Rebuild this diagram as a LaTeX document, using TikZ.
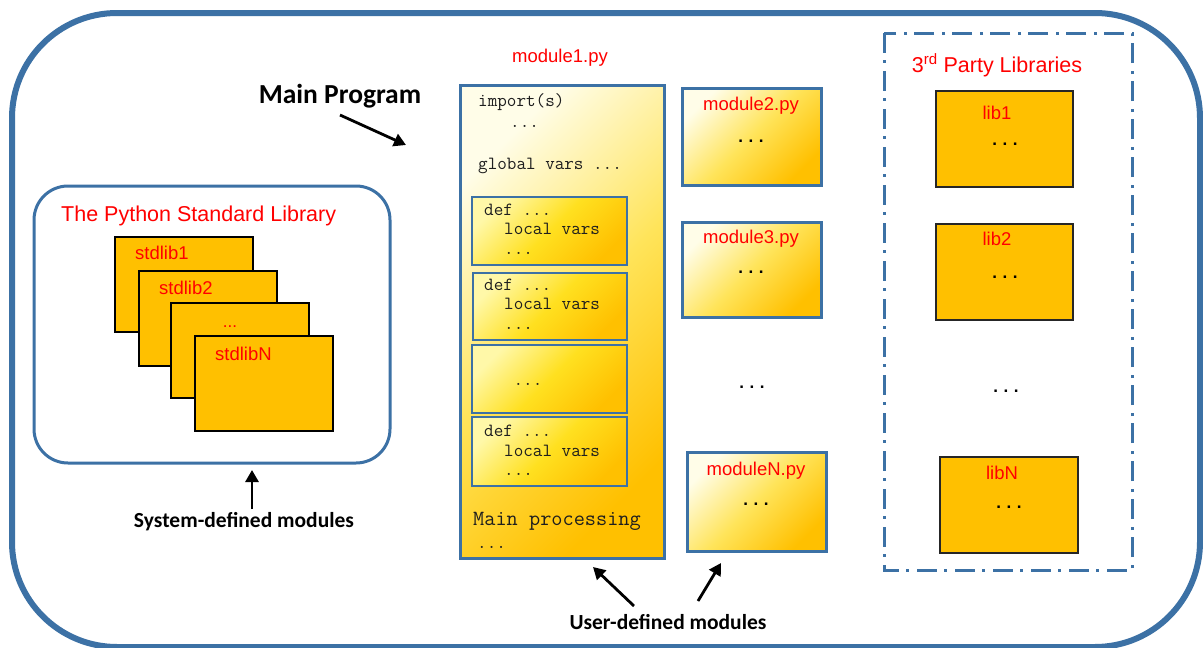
\documentclass[tikz,border=0pt]{standalone}
\usepackage{fontspec}
\setmainfont{Liberation Sans}
\newfontfamily\calibri{Carlito}
\newfontfamily\couriernew{Liberation Mono}
\usetikzlibrary{arrows.meta}
\definecolor{mblue}{RGB}{60,113,165}
\definecolor{gold}{RGB}{255,192,0}
\definecolor{paleY}{RGB}{255,253,232}
\definecolor{midY}{RGB}{255,228,90}
\definecolor{defTop}{RGB}{255,248,168}
\definecolor{defMid}{RGB}{255,224,32}
\definecolor{codeC}{RGB}{30,30,30}
\begin{document}
\begin{tikzpicture}[x=1pt,y=-1pt,
  redlbl/.style={text=red, font=\fontsize{18.5}{20}\selectfont, inner sep=0},
  bigred/.style={text=red, font=\fontsize{21.5}{24}\selectfont, inner sep=0},
  boldlbl/.style={font=\calibri\bfseries\fontsize{21.5}{24}\selectfont, inner sep=0},
  code/.style={text=codeC, font=\ttfamily\fontsize{18.6}{20}\selectfont, inner sep=0},
  bigcode/.style={text=codeC, font=\ttfamily\fontsize{21.7}{24}\selectfont, inner sep=0},
  dotsl/.style={font=\couriernew\bfseries\fontsize{17}{18}\selectfont, inner sep=0},
  modbox/.style={draw=mblue, line width=3, inner sep=0, outer sep=0, anchor=north west,
     top color=paleY, bottom color=gold, middle color=midY, shading angle=45},
  defbox/.style={draw=mblue, line width=2, inner sep=0, outer sep=0, anchor=north west,
     top color=defTop, bottom color=gold, middle color=defMid, shading angle=45},
  libbox/.style={draw=black!85, fill=gold, line width=2, inner sep=0, outer sep=0, anchor=north west,
     minimum width=137, minimum height=96},
  stdbox/.style={draw=black, fill=gold, line width=2, inner sep=0, outer sep=0, anchor=north west,
     minimum width=138, minimum height=95},
  pointer/.style={draw=black, line width=2.8, -{Triangle[length=12,width=13]}}
]
\useasboundingbox (0,0) rectangle (1203,648);
\clip (0,0) rectangle (1203,648);
\fill[white] (0,0) rectangle (1203,648);

% outer frame
\draw[mblue, line width=6, rounded corners=105] (12,13) rectangle (1200,647);

% Python standard library
\draw[mblue, line width=3, rounded corners=34] (34,186) rectangle (390,463);
\node[bigred, anchor=base west] (pslt) at (61,221) {The Python Standard Library};
\node[stdbox] (s1) at (115,237) {};
\node[redlbl, anchor=base west] (s1l) at (135,259) {stdlib1};
\node[stdbox] (s2) at (139,271) {};
\node[redlbl, anchor=base west] (s2l) at (159,294) {stdlib2};
\node[stdbox] (s3) at (171,303) {};
\node[text=red, font=\fontsize{17}{18}\selectfont, inner sep=0, anchor=base] (s3l) at (230,327) {...};
\node[stdbox] (s4) at (195,336) {};
\node[redlbl, anchor=base west] (s4l) at (215,360) {stdlibN};

\node[boldlbl, anchor=center] (sysdef) at (244,522) {System-defined modules};
\coordinate (sysA) at (252,509);
\draw[pointer] (sysA) -- (252,470);

% main program
\node[boldlbl, font=\calibri\bfseries\fontsize{27.5}{30}\selectfont, anchor=center] (mainp) at (340,96) {Main Program};
\coordinate (mpA) at (340,115);
\coordinate (mpB) at (406,145);
\draw[pointer] (mpA) -- (mpB);

% module1
\node[redlbl, anchor=base] (m1l) at (560,62) {module1.py};
\node[modbox, minimum width=204, minimum height=473] (m1) at (460,85) {};
\node[code, anchor=base west] (imp) at (478,106) {import(s)};
\node[code, anchor=base west] (impd) at (510,127) {...};
\node[code, anchor=base west] (glob) at (478,169) {global vars ...};

\node[defbox, minimum width=155, minimum height=68] (d1) at (472,197) {};
\node[code, anchor=base west] (d1a) at (484,215) {def ...};
\node[code, anchor=base west] (d1b) at (504,234) {local vars};
\node[code, anchor=base west] (d1c) at (504,254) {...};

\node[defbox, minimum width=154, minimum height=67] (d2) at (473,273) {};
\node[code, anchor=base west] (d2a) at (484,290) {def ...};
\node[code, anchor=base west] (d2b) at (504,309) {local vars};
\node[code, anchor=base west] (d2c) at (504,329) {...};

\node[defbox, minimum width=155, minimum height=68] (d3) at (472,345) {};
\node[code, anchor=base] (d3a) at (528,385) {...};

\node[defbox, minimum width=155, minimum height=69] (d4) at (472,417) {};
\node[code, anchor=base west] (d4a) at (484,436) {def ...};
\node[code, anchor=base west] (d4b) at (504,456) {local vars};
\node[code, anchor=base west] (d4c) at (504,475) {...};

\node[bigcode, anchor=base west] (mproc) at (473,525) {Main processing};
\node[code, anchor=base west] (mprocd) at (477,548) {...};

% other modules
\node[modbox, minimum width=139, minimum height=97] (m2) at (682,88) {};
\node[redlbl, anchor=base] (m2l) at (751,110) {module2.py};
\node[dotsl, anchor=base] (m2d) at (751,142) {...};

\node[modbox, minimum width=139, minimum height=95] (m3) at (682,222) {};
\node[redlbl, anchor=base] (m3l) at (751,243) {module3.py};
\node[dotsl, anchor=base] (m3d) at (751,273) {...};

\node[dotsl, anchor=base] (mmid) at (752,388) {...};

\node[modbox, minimum width=139, minimum height=99] (mN) at (687,452) {};
\node[redlbl, anchor=base] (mNl) at (756,475) {moduleN.py};
\node[dotsl, anchor=base] (mNd) at (756,505) {...};

\node[boldlbl, anchor=center] (userdef) at (668,622) {User-defined modules};
\coordinate (ua) at (634,606);
\coordinate (ub) at (698,601);
\draw[pointer] (ua) -- (593,567);
\draw[pointer] (ub) -- (721,563);

% third party
\draw[mblue, line width=3, dash pattern=on 20 off 7 on 3 off 8] (884,33) rectangle (1132,570);
\node[bigred, anchor=base] (tpl) at (997,72) {3\textsuperscript{rd} Party Libraries};
\node[libbox] (l1) at (936,91) {};
\node[redlbl, anchor=base] (l1l) at (997,119) {lib1};
\node[dotsl, anchor=base] (l1d) at (1005,145) {...};
\node[libbox] (l2) at (936,224) {};
\node[redlbl, anchor=base] (l2l) at (997,245) {lib2};
\node[dotsl, anchor=base] (l2d) at (1005,278) {...};
\node[dotsl, anchor=base] (lmid) at (1006,392) {...};
\node[libbox, minimum width=138] (lN) at (940,457) {};
\node[redlbl, anchor=base] (lNl) at (1002,479) {libN};
\node[dotsl, anchor=base] (lNd) at (1009,508) {...};
\end{tikzpicture}
\end{document}
